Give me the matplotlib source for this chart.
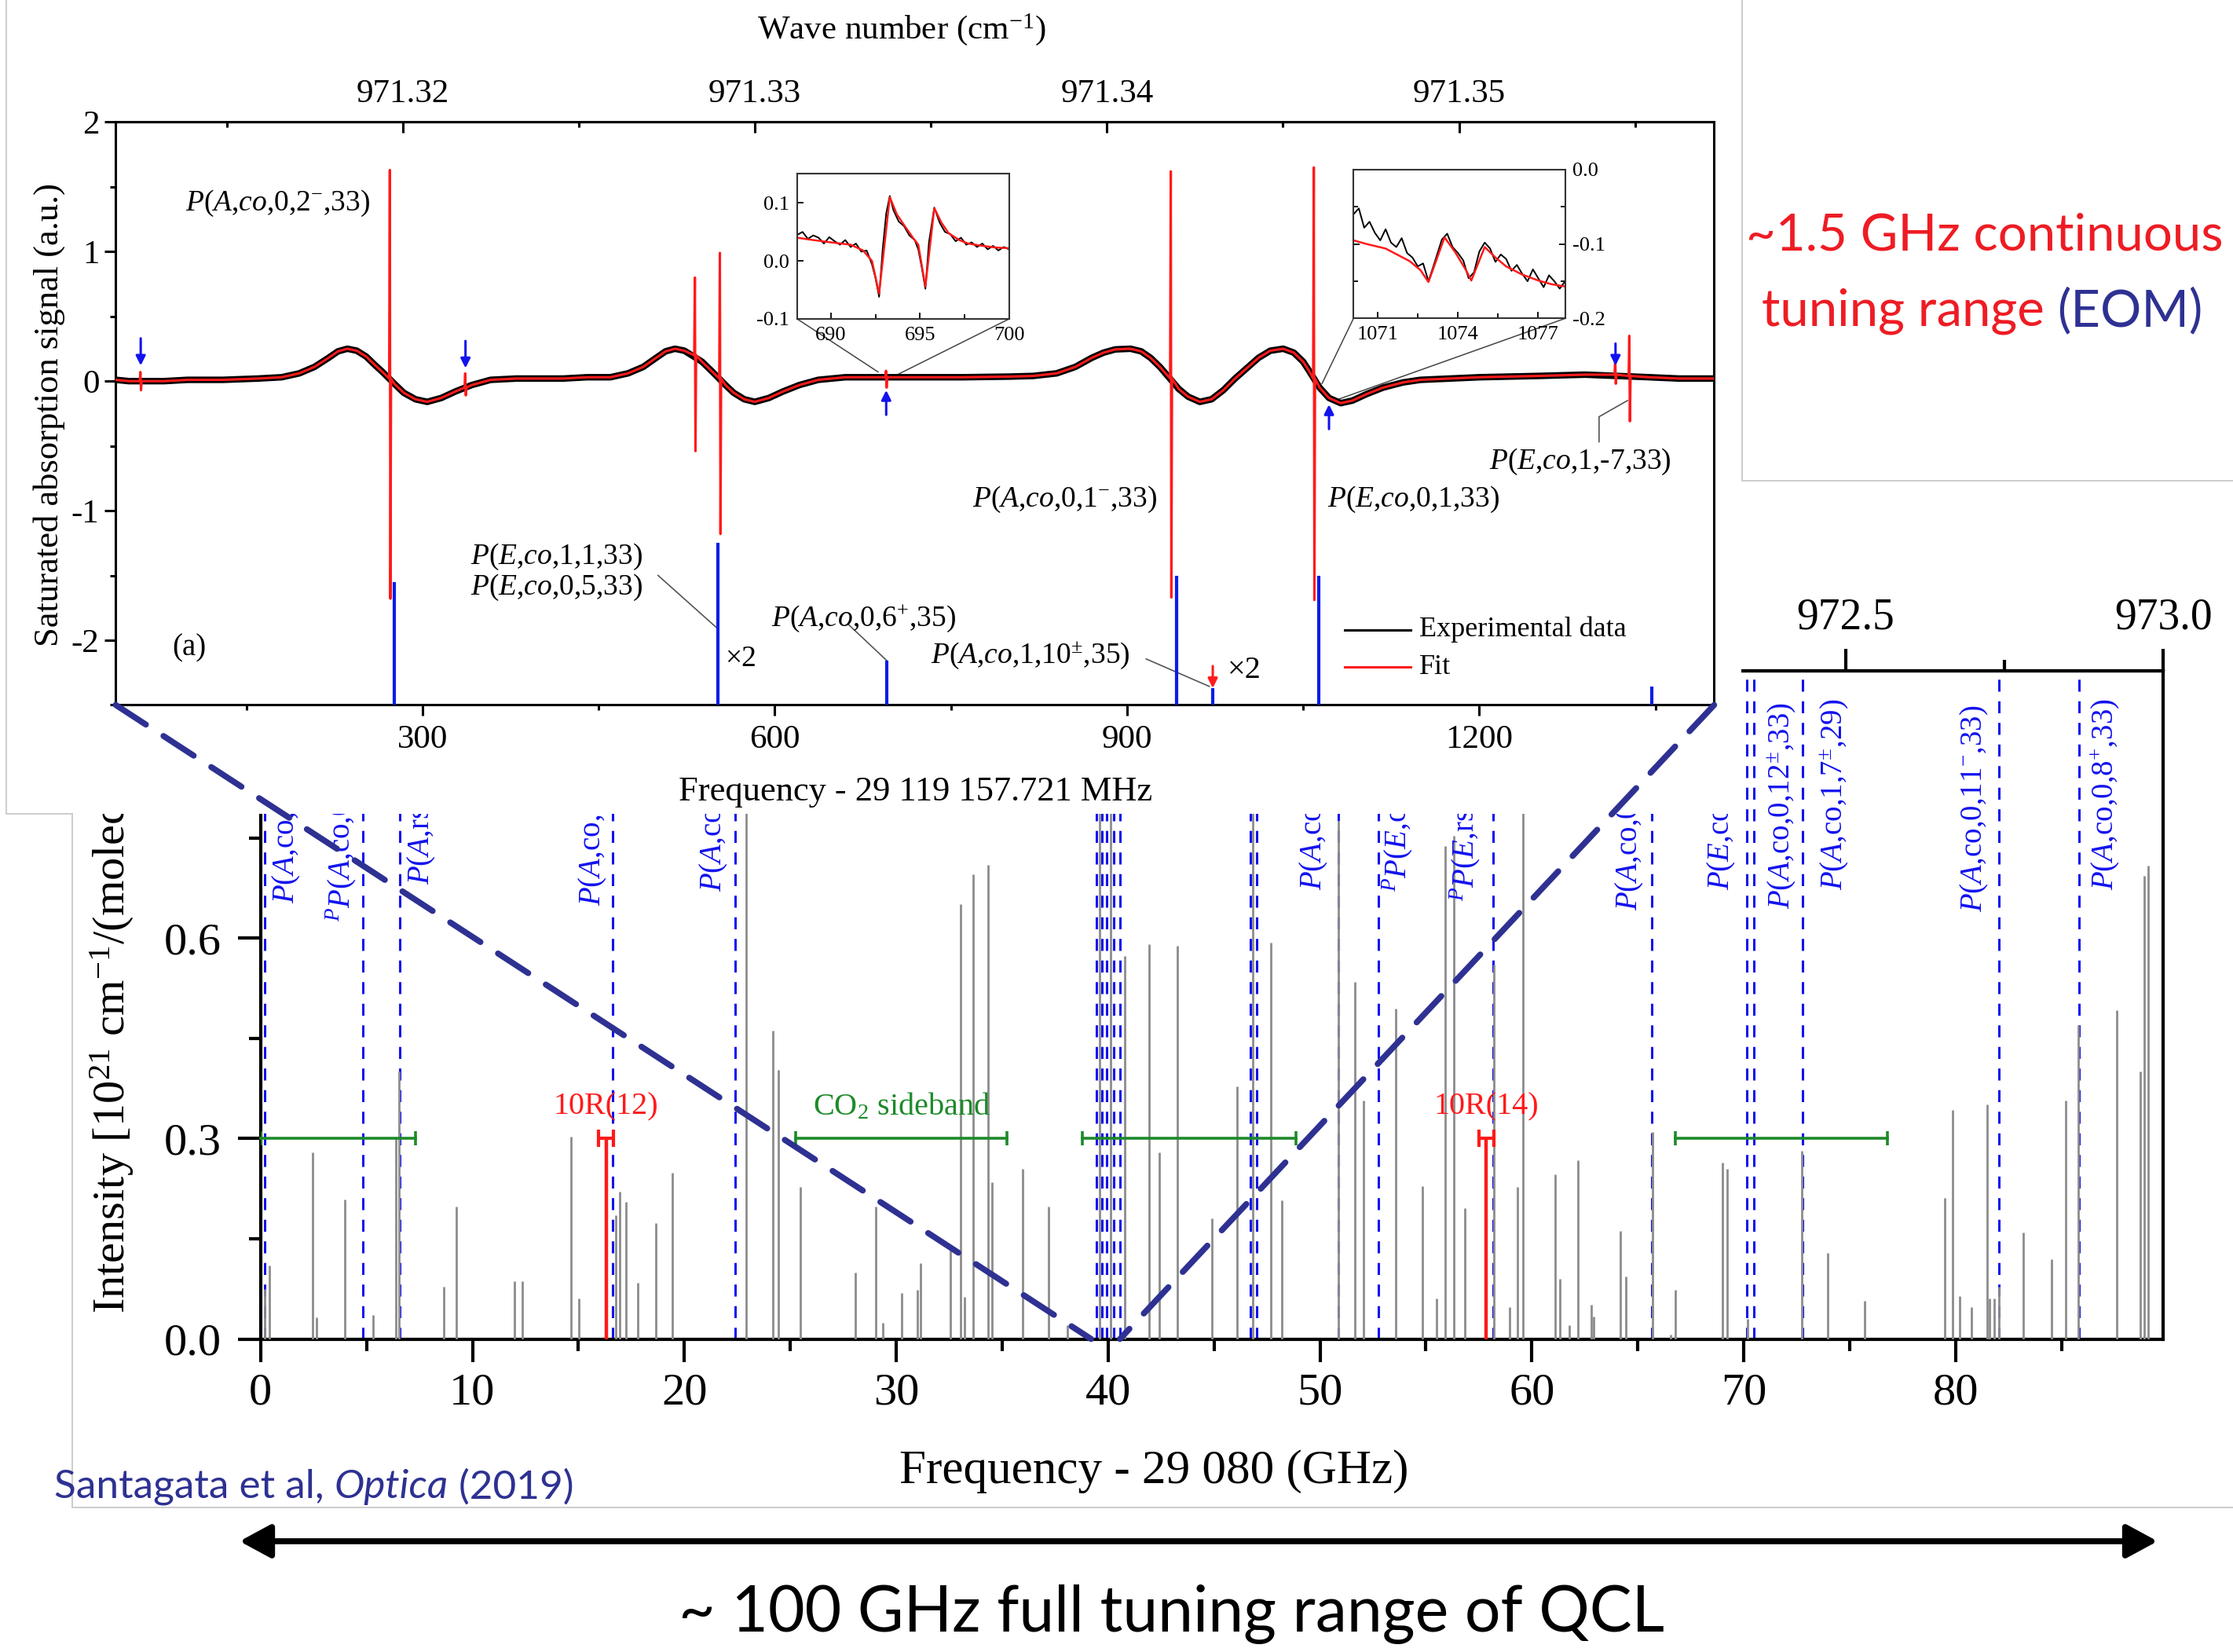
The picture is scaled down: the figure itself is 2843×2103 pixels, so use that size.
import numpy as np
import matplotlib.pyplot as plt
from matplotlib.patches import Rectangle, ConnectionPatch, FancyArrowPatch
from matplotlib.lines import Line2D
from matplotlib.ticker import MultipleLocator, FixedLocator, FormatStrFormatter

plt.rcParams['font.family'] = ['Liberation Serif', 'DejaVu Serif']
plt.rcParams['mathtext.fontset'] = 'custom'
plt.rcParams['mathtext.rm'] = 'Liberation Serif'
plt.rcParams['mathtext.it'] = 'Liberation Serif:italic'
plt.rcParams['mathtext.bf'] = 'Liberation Serif:bold'
plt.rcParams['axes.unicode_minus'] = False

# ---------------- survey spectrum (bottom panel), frequency - 29 080 GHz
stick_ghz = [0.20, 0.43, 2.47, 2.65, 3.99, 5.30, 6.40, 6.55, 8.63, 9.23, 11.97, 12.36,
             14.66, 15.02, 16.75, 16.95, 17.25, 17.79, 18.64, 19.45, 22.93, 24.17, 24.42,
             25.48, 28.07, 29.03, 29.38, 30.27, 30.98, 31.16, 32.57, 33.03, 33.21, 33.64,
             34.35, 34.53, 35.95, 37.19, 38.08, 39.60, 40.10, 40.80, 41.93, 42.40, 43.26,
             44.90, 46.09, 46.84, 47.69, 48.20, 50.87, 51.65, 52.06, 53.59, 54.85, 55.50,
             55.91, 56.32, 56.83, 58.20, 58.95, 59.33, 59.57, 61.09, 61.33, 61.78, 62.19,
             62.80, 62.90, 64.17, 64.44, 65.70, 66.55, 66.78, 69.00, 69.20, 70.19, 72.75,
             73.95, 75.69, 79.50, 79.84, 80.18, 80.76, 81.48, 81.61, 81.82, 82.06, 83.18,
             84.54, 85.19, 85.80, 87.60, 88.72, 88.90, 89.07]
stick_int = [0.075, 0.110, 0.279, 0.032, 0.209, 0.036, 0.300, 0.400, 0.078, 0.198, 0.087, 0.087,
             0.303, 0.060, 0.185, 0.220, 0.205, 0.084, 0.174, 0.249, 0.950, 0.462, 0.403,
             0.228, 0.099, 0.198, 0.024, 0.069, 0.073, 0.114, 0.132, 0.651, 0.063, 0.695,
             0.710, 0.234, 0.255, 0.198, 0.020, 0.950, 0.950, 0.573, 0.591, 0.279, 0.589,
             0.180, 0.378, 0.950, 0.593, 0.207, 0.775, 0.534, 0.357, 0.495, 0.229, 0.060,
             0.738, 0.753, 0.196, 0.560, 0.048, 0.228, 0.950, 0.246, 0.090, 0.021, 0.267,
             0.051, 0.033, 0.162, 0.093, 0.310, 0.006, 0.073, 0.264, 0.255, 0.030, 0.282,
             0.129, 0.057, 0.211, 0.343, 0.064, 0.048, 0.351, 0.060, 0.061, 0.078, 0.159,
             0.119, 0.357, 0.470, 0.492, 0.400, 0.693, 0.708]

assigned_ghz = [0.20, 4.82, 6.56, 16.62, 22.41, 39.45, 39.70, 39.95, 40.25, 40.55, 46.70,
                47.00, 50.87, 52.74, 58.18, 65.66, 70.15, 70.48, 72.77, 82.04, 85.84]

# labels of the assigned lines; those on the left run under the upper card
label_ghz = [1.22, 3.79, 7.60, 15.69, 21.41, 49.72, 53.64, 56.85, 64.62, 68.97,
             71.78, 74.27, 80.91, 87.05]
label_base = [0.652, 0.625, 0.680, 0.649, 0.670, 0.672, 0.670, 0.656, 0.641, 0.672,
              0.644, 0.672, 0.639, 0.672]
label_text = [r'$P$($A$,co,', r'${}^{P}P$($A$,co,0', r'$P$($A$,rs', r'$P$($A$,co,0',
              r'$P$($A$,co', r'$P$($A$,co', r'${}^{P}P$($E$,co', r'${}^{P}P$($E$,rs',
              r'$P$($A$,co,0', r'$P$($E$,co', r'$P$($A$,co,0,12$^{\pm}$,33)',
              r'$P$($A$,co,1,7$^{\pm}$,29)', r'$P$($A$,co,0,11$^{-}$,33)',
              r'$P$($A$,co,0,8$^{+}$,33)']

sideband_lo = [0.0, 25.24, 38.78, 66.78]
sideband_hi = [7.32, 35.24, 48.86, 76.78]
sideband_level = 0.3

laser_ghz = [16.30, 57.85]
laser_name = ['10R(12)', '10R(14)']

# ---------------- saturated absorption scan (top panel), frequency - 29 119 157.721 MHz
fit_mhz = [38.7, 50, 80, 100, 130, 160, 180, 195, 208, 220, 228, 236, 244, 252, 260, 266,
           276, 284, 294, 304, 316, 328, 342, 358, 380, 420, 440, 460, 475, 488, 499, 507,
           515, 523, 538, 546, 558, 565, 574, 583, 595, 607, 621, 637, 660, 700, 760, 800,
           820, 840, 856, 870, 880, 890, 903, 912, 920, 928, 944, 952, 962, 972, 982, 992,
           1002, 1012, 1022, 1033, 1042, 1050, 1055, 1064, 1072, 1082, 1092, 1104, 1118,
           1135, 1150, 1200, 1250, 1290, 1345, 1370, 1400]
fit_sig = [0.01, 0.00, 0.00, 0.01, 0.01, 0.02, 0.03, 0.06, 0.11, 0.18, 0.23, 0.25, 0.235,
           0.19, 0.12, 0.07, -0.02, -0.09, -0.14, -0.16, -0.13, -0.08, -0.03, 0.01, 0.02,
           0.02, 0.03, 0.03, 0.06, 0.11, 0.18, 0.23, 0.25, 0.235, 0.15, 0.08, -0.03, -0.09,
           -0.14, -0.16, -0.13, -0.08, -0.03, 0.01, 0.03, 0.03, 0.03, 0.035, 0.04, 0.06,
           0.11, 0.18, 0.22, 0.245, 0.25, 0.23, 0.18, 0.11, -0.06, -0.12, -0.16, -0.14,
           -0.07, 0.02, 0.10, 0.18, 0.235, 0.25, 0.22, 0.15, 0.08, -0.05, -0.13, -0.17,
           -0.15, -0.10, -0.05, -0.01, 0.01, 0.03, 0.04, 0.05, 0.03, 0.02, 0.02]
spike_mhz = [60.0, 272.4, 336.6, 532.2, 553.5, 695.0, 937.5, 1059.3, 1316.0, 1328.0]
spike_base = [0.00, 0.02, -0.05, 0.20, 0.02, 0.03, 0.02, 0.02, 0.05, 0.04]
spike_top = [0.07, 1.63, 0.06, 0.80, 0.99, 0.08, 1.62, 1.65, 0.17, 0.35]
spike_bot = [-0.07, -1.68, -0.11, -0.54, -1.18, -0.05, -1.67, -1.69, -0.02, -0.31]

stick_mhz = [276.1, 551.5, 695.7, 942.5, 973.0, 1063.5, 1347.0]
stick_top = [-1.55, -1.25, -2.16, -1.50, -2.37, -1.50, -2.36]

# small markers of weak lines (blue arrows): position, tail, head
weak_mhz = [60.0, 336.6, 694.9, 1072.0, 1316.0]
weak_tail = [0.33, 0.31, -0.26, -0.37, 0.29]
weak_head = [0.12, 0.10, -0.07, -0.18, 0.12]

# zoomed insets: fit and measured trace
in1_mhz = [688.1, 689.0, 690.0, 691.1, 691.8, 692.3, 692.7, 693.3, 693.7, 694.1, 694.6,
           694.9, 695.3, 695.8, 696.2, 696.6, 697.2, 697.7, 698.5, 699.3, 700.0]
in1_fit = [0.040, 0.036, 0.032, 0.028, 0.018, 0.000, -0.056, 0.110, 0.080, 0.062, 0.040,
           0.028, -0.044, 0.091, 0.066, 0.048, 0.036, 0.030, 0.026, 0.023, 0.022]
in1_exp_mhz = [688.1, 688.4, 688.7, 689.0, 689.3, 689.6, 689.9, 690.2, 690.5, 690.8, 691.1,
               691.4, 691.7, 692.0, 692.3, 692.5, 692.7, 692.9, 693.1, 693.3, 693.5, 693.8,
               694.1, 694.4, 694.7, 694.9, 695.1, 695.3, 695.5, 695.8, 696.1, 696.4, 696.7,
               697.0, 697.3, 697.6, 697.9, 698.2, 698.5, 698.8, 699.1, 699.4, 699.7, 700.0]
in1_exp = [0.045, 0.050, 0.038, 0.044, 0.040, 0.030, 0.041, 0.034, 0.028, 0.036, 0.024,
           0.030, 0.016, 0.018, -0.006, -0.030, -0.062, 0.020, 0.082, 0.112, 0.088, 0.068,
           0.060, 0.044, 0.036, 0.020, -0.012, -0.048, 0.032, 0.092, 0.066, 0.050, 0.046,
           0.034, 0.040, 0.028, 0.032, 0.024, 0.030, 0.020, 0.026, 0.018, 0.024, 0.020]
in2_mhz = [1070.1, 1070.6, 1071.3, 1072.2, 1072.6, 1072.9, 1073.5, 1073.9, 1074.3, 1074.5,
           1075.0, 1075.4, 1075.8, 1076.4, 1077.0, 1077.5, 1078.0]
in2_fit = [-0.095, -0.100, -0.106, -0.123, -0.135, -0.151, -0.091, -0.111, -0.135, -0.149,
           -0.104, -0.118, -0.130, -0.141, -0.149, -0.154, -0.157]
in2_exp_mhz = [1070.1, 1070.3, 1070.5, 1070.7, 1070.9, 1071.1, 1071.3, 1071.5, 1071.7,
               1071.9, 1072.1, 1072.3, 1072.5, 1072.7, 1072.9, 1073.1, 1073.4, 1073.6,
               1073.8, 1074.0, 1074.2, 1074.4, 1074.6, 1074.8, 1075.0, 1075.2, 1075.4,
               1075.6, 1075.8, 1076.0, 1076.2, 1076.4, 1076.6, 1076.8, 1077.0, 1077.2,
               1077.4, 1077.6, 1077.8, 1078.0]
in2_exp = [-0.060, -0.052, -0.078, -0.070, -0.085, -0.095, -0.080, -0.098, -0.104, -0.092,
           -0.112, -0.118, -0.130, -0.126, -0.150, -0.128, -0.094, -0.086, -0.104, -0.112,
           -0.122, -0.146, -0.138, -0.110, -0.098, -0.106, -0.124, -0.114, -0.120, -0.136,
           -0.128, -0.140, -0.150, -0.134, -0.146, -0.158, -0.142, -0.150, -0.160, -0.150]

F0_GHZ = 29080.0
F0_MHZ = 29119157.721
C_GHZ = 29.9792458      # GHz per cm-1
C_MHZ = 29979.2458

W, H = 2843, 2103


def fx(px):
    return px / W


def fy(py):
    return 1 - py / H


def box(l, t, r, b):
    return [fx(l), fy(b), (r - l) / W, (b - t) / H]


BLUE = '#1212ee'
RED = '#ff1a1a'
GREEN = '#1d8a2a'
NAVY = '#2e3192'
SLIDE_RED = '#ee1c24'

fig = plt.figure(figsize=(W / 100, H / 100), dpi=100)
renderer = fig.canvas.get_renderer()

# ================= bottom panel =================
ax_b = fig.add_axes(box(331.8, 854, 2754.4, 1704.5))
ax_b.set_zorder(1)
ax_b.vlines(assigned_ghz, 0, 1, colors=BLUE, linestyles=(0, (5, 4)), lw=2.2, zorder=2)
ax_b.vlines(stick_ghz, 0, stick_int, colors='#8c8c8c', lw=2.0, zorder=3)

for lo, hi in zip(sideband_lo, sideband_hi):
    ax_b.plot([lo, hi], [sideband_level] * 2, color=GREEN, lw=2.6, zorder=4, clip_on=False)
    ax_b.plot([lo, hi], [sideband_level] * 2, ls='none', marker='|', ms=13, mew=2.6,
              color=GREEN, zorder=4)
ax_b.text((sideband_lo[1] + sideband_hi[1]) / 2, sideband_level + 0.048, 'CO$_2$ sideband',
          color=GREEN, fontsize=29, ha='center', va='center', zorder=6)

for g, name in zip(laser_ghz, laser_name):
    ax_b.vlines(g, 0, sideband_level, colors=RED, lw=3.2, zorder=5)
    ax_b.errorbar(g, sideband_level, xerr=0.35, color=RED, capsize=8, lw=3, capthick=3,
                  zorder=5)
    ax_b.text(g, sideband_level + 0.048, name, color=RED, fontsize=29, ha='center',
              va='center', zorder=6)

for g, yb, t in zip(label_ghz, label_base, label_text):
    ax_b.text(g, yb, t, rotation=90, ha='center', va='bottom', color=BLUE, fontsize=28,
              zorder=6)

ax_b.set_xlim(0, 973.0 * C_GHZ - F0_GHZ)
ax_b.set_ylim(0, 1.0)
ax_b.xaxis.set_major_locator(MultipleLocator(10))
ax_b.xaxis.set_minor_locator(MultipleLocator(5))
ax_b.yaxis.set_major_locator(FixedLocator([0.0, 0.3, 0.6]))
ax_b.yaxis.set_minor_locator(FixedLocator([0.15, 0.45, 0.75]))
ax_b.yaxis.set_major_formatter(FormatStrFormatter('%.1f'))
ax_b.tick_params(which='major', direction='out', length=21, width=3, labelsize=42)
ax_b.tick_params(axis='x', which='major', pad=10)
ax_b.tick_params(axis='y', which='major', pad=15)
ax_b.tick_params(which='minor', direction='out', length=11, width=3)
for s in ax_b.spines.values():
    s.set_linewidth(3)

# wavenumber scale; only the part right of the upper card is visible
sec_b = ax_b.secondary_xaxis('top', functions=(lambda g: (g + F0_GHZ) / C_GHZ,
                                                lambda w: w * C_GHZ - F0_GHZ))
sec_b.xaxis.set_major_locator(FixedLocator([972.5, 973.0]))
sec_b.xaxis.set_minor_locator(FixedLocator([972.75]))
sec_b.xaxis.set_major_formatter(FormatStrFormatter('%.1f'))
sec_b.tick_params(which='major', direction='out', length=20, width=3, labelsize=40, pad=10)
sec_b.tick_params(which='minor', direction='out', length=10, width=3)
sec_b.spines['top'].set_linewidth(3)

fig.text(fx(143), fy(1672), 'Intensity [10$^{21}$ cm$^{-1}$/(molecu',
         rotation=90, ha='center', va='bottom', fontsize=42, zorder=1.5)
fig.text(fx(1469), fy(1873), 'Frequency - 29 080 (GHz)', ha='center', va='center',
         fontsize=44, zorder=1.5)

# white card of the upper figure
fig.add_artist(Rectangle((fx(7), fy(1036)), (2217 - 7) / W, 1036 / H,
                         transform=fig.transFigure, facecolor='white', edgecolor='none',
                         zorder=2))
border = '#c8c8c8'
fig.add_artist(Line2D([fx(8), fx(8), fx(92)], [fy(0), fy(1036), fy(1036)],
                      transform=fig.transFigure, color=border, lw=1.3, zorder=2.5))
fig.add_artist(Line2D([fx(92), fx(92), fx(2843)], [fy(1036), fy(1919), fy(1919)],
                      transform=fig.transFigure, color=border, lw=1.3, zorder=2.5))
fig.add_artist(Line2D([fx(2218), fx(2218), fx(2843)], [fy(0), fy(612), fy(612)],
                      transform=fig.transFigure, color=border, lw=1.3, zorder=2.5))

# ================= top panel =================
ax_t = fig.add_axes(box(147.3, 155.4, 2182.4, 897.4))
ax_t.set_zorder(3)

rx = list(fit_mhz)
ry = list(fit_sig)
for c, b0, t, b in zip(spike_mhz, spike_base, spike_top, spike_bot):
    rx += [c - 0.8, c - 0.25, c + 0.25, c + 0.8]
    ry += [b0, t, b, b0]
order = np.argsort(rx)
red_x = np.array(rx)[order]
red_y = np.array(ry)[order]

ax_t.plot(fit_mhz, fit_sig, color='black', lw=6, zorder=2, solid_joinstyle='round')
ax_t.plot(red_x, red_y, color=RED, lw=2.2, zorder=3)
ax_t.vlines(stick_mhz, -2.5, stick_top, colors='#0b1de8', lw=3, zorder=4)

for x, t0, t1 in zip(weak_mhz, weak_tail, weak_head):
    ax_t.annotate('', xy=(x, t1), xytext=(x, t0),
                  arrowprops=dict(arrowstyle='-|>', color=BLUE, lw=2.2, mutation_scale=18,
                                  shrinkA=0, shrinkB=0))

ax_t.set_xlim(38.7, 1400)
ax_t.set_ylim(-2.5, 2)
ax_t.xaxis.set_major_locator(MultipleLocator(300))
ax_t.xaxis.set_minor_locator(MultipleLocator(150))
ax_t.yaxis.set_major_locator(MultipleLocator(1))
ax_t.yaxis.set_minor_locator(MultipleLocator(0.5))
ax_t.tick_params(which='major', direction='out', length=10, width=2.2, labelsize=31)
ax_t.tick_params(which='minor', direction='out', length=5, width=2.2)
ax_t.tick_params(axis='x', pad=8)
ax_t.tick_params(axis='y', pad=5)
for s in ax_t.spines.values():
    s.set_linewidth(2.2)

sec_t = ax_t.secondary_xaxis('top', functions=(lambda x: (x + F0_MHZ) / C_MHZ,
                                                lambda w: w * C_MHZ - F0_MHZ))
sec_t.xaxis.set_major_locator(MultipleLocator(0.01))
sec_t.xaxis.set_minor_locator(MultipleLocator(0.005))
sec_t.xaxis.set_major_formatter(FormatStrFormatter('%.2f'))
sec_t.tick_params(which='major', direction='in', length=10, width=2.2, labelsize=31, pad=12)
sec_t.tick_params(which='minor', direction='in', length=5, width=2.2)
sec_t.spines['top'].set_linewidth(2.2)

fig.text(fx(1148), fy(38), 'Wave number (cm$^{-1}$)', ha='center', va='center',
         fontsize=31, zorder=4)
fig.text(fx(1166), fy(1008), 'Frequency - 29 119 157.721 MHz', ha='center', va='center',
         fontsize=32, zorder=4)
fig.text(fx(63), fy(528), 'Saturated absorption signal (a.u.)', rotation=90, ha='center',
         va='center', fontsize=32, zorder=4)

afs = 27
lead = '#555555'
ax_t.text(176.7, 1.37, r'$P$($A$,$co$,0,2$^{-}$,33)', fontsize=afs, ha='center', va='center')
ax_t.text(414, -1.475, r'$P$($E$,$co$,1,1,33)' + '\n' + r'$P$($E$,$co$,0,5,33)',
          fontsize=afs, ha='center', va='center', linespacing=1.05)
ax_t.plot([500.6, 550], [-1.50, -1.90], color=lead, lw=1.2)
ax_t.text(571, -2.145, '×2', fontsize=afs, ha='center', va='center')
ax_t.text(675.5, -1.83, r'$P$($A$,$co$,0,6$^{+}$,35)', fontsize=afs, ha='center', va='center')
ax_t.plot([662.9, 695.7], [-1.88, -2.16], color=lead, lw=1.2)
ax_t.text(817.6, -2.12, r'$P$($A$,$co$,1,10$^{\pm}$,35)', fontsize=afs, ha='center',
          va='center')
ax_t.plot([916.3, 970.1], [-2.145, -2.357], color=lead, lw=1.2)
ax_t.annotate('', xy=(973, -2.37), xytext=(973, -2.2),
              arrowprops=dict(arrowstyle='-|>', color=RED, lw=2.2, mutation_scale=18,
                              shrinkA=0, shrinkB=0))
ax_t.text(1000, -2.235, '×2', fontsize=afs + 2, ha='center', va='center')
ax_t.text(847, -0.915, r'$P$($A$,$co$,0,1$^{-}$,33)', fontsize=afs, ha='center', va='center')
ax_t.text(1143.9, -0.915, r'$P$($E$,$co$,0,1,33)', fontsize=afs, ha='center', va='center')
ax_t.text(1286, -0.62, r'$P$($E$,$co$,1,-7,33)', fontsize=afs, ha='center', va='center')
ax_t.plot([1302, 1302, 1326.2], [-0.468, -0.275, -0.15], color=lead, lw=1.2)
ax_t.text(101, -2.06, '(a)', fontsize=28, ha='center', va='center')

# legend
ax_t.plot([0.7689, 0.8101], [0.1291, 0.1291], color='black', lw=2.2, transform=ax_t.transAxes)
ax_t.plot([0.7689, 0.8101], [0.0652, 0.0652], color=RED, lw=2.2, transform=ax_t.transAxes)
ax_t.text(0.8154, 0.1291, 'Experimental data', fontsize=26, va='center',
          transform=ax_t.transAxes)
ax_t.text(0.8154, 0.0652, 'Fit', fontsize=26, va='center', transform=ax_t.transAxes)

# ---- zoom insets
ax_i1 = fig.add_axes(box(1015, 221.4, 1284.7, 406))
ax_i1.set_zorder(4)
ax_i1.plot(in1_exp_mhz, in1_exp, color='black', lw=1.4)
ax_i1.plot(in1_mhz, in1_fit, color=RED, lw=1.8)
ax_i1.set_xlim(688.1, 700)
ax_i1.set_ylim(-0.1, 0.15)
ax_i1.xaxis.set_major_locator(MultipleLocator(5))
ax_i1.xaxis.set_minor_locator(MultipleLocator(2.5))
ax_i1.yaxis.set_major_locator(MultipleLocator(0.1))
ax_i1.yaxis.set_major_formatter(FormatStrFormatter('%.1f'))
ax_i1.tick_params(which='both', direction='in', length=6, width=1.3, labelsize=19, pad=7)
ax_i1.tick_params(which='minor', length=4)

ax_i2 = fig.add_axes(box(1723.2, 216, 1992.6, 405.4))
ax_i2.set_zorder(4)
ax_i2.plot(in2_exp_mhz, in2_exp, color='black', lw=1.4)
ax_i2.plot(in2_mhz, in2_fit, color=RED, lw=1.8)
ax_i2.set_xlim(1070.1, 1078)
ax_i2.set_ylim(-0.2, 0.0)
ax_i2.xaxis.set_major_locator(MultipleLocator(3))
ax_i2.xaxis.set_minor_locator(MultipleLocator(1.5))
ax_i2.yaxis.set_major_locator(MultipleLocator(0.1))
ax_i2.yaxis.set_minor_locator(MultipleLocator(0.05))
ax_i2.yaxis.set_major_formatter(FormatStrFormatter('%.1f'))
ax_i2.tick_params(which='both', direction='in', length=6, width=1.3, labelsize=19, pad=7,
                  left=True, right=True, labelleft=False, labelright=True)
ax_i2.tick_params(which='minor', length=4)
for a in (ax_i1, ax_i2):
    for s in a.spines.values():
        s.set_linewidth(1.5)
        s.set_color('#333333')

for a, pts in ((ax_i1, [((688.1, -0.1), (688.1, 0.07)), ((700, -0.1), (700, 0.03))]),
               (ax_i2, [((1070.1, -0.2), (1066, -0.02)), ((1078, -0.2), (1080, -0.14))])):
    for pa, pb in pts:
        cp = ConnectionPatch(xyA=pa, coordsA=a.transData, xyB=pb, coordsB=ax_t.transData,
                             color='#444444', lw=1.1)
        ax_t.add_artist(cp)

# navy dashed guides from the scan to its place in the survey
off = (F0_MHZ / 1000.0) - F0_GHZ
for xm in ax_t.get_xlim():
    cp = ConnectionPatch(xyA=(xm, -2.5), coordsA=ax_t.transData,
                         xyB=(off + xm / 1000.0, 0), coordsB=ax_b.transData,
                         color=NAVY, lw=5.5, linestyle=(0, (6, 3.5)))
    cp.set_zorder(8)
    fig.add_artist(cp)


# ================= slide annotations =================
def chain(parts, x0, y0, size):
    xpos = x0
    for text, colour, style in parts:
        t = fig.text(xpos, y0, text, family='Lato', style=style, fontsize=size, color=colour,
                     ha='left', va='center', zorder=10)
        xpos = t.get_window_extent(renderer).x1 / W


chain([('~1.5 GHz continuous', SLIDE_RED, 'normal')], fx(2223), fy(300), 47)
chain([('tuning range ', SLIDE_RED, 'normal'), ('(EOM)', NAVY, 'normal')],
      fx(2243), fy(396), 47)
chain([('Santagata et al, ', NAVY, 'normal'), ('Optica', NAVY, 'italic'),
       (' (2019)', NAVY, 'normal')], fx(69), fy(1893), 37)

fig.add_artist(FancyArrowPatch((fx(305), fy(1962)), (fx(2747), fy(1962)),
                               transform=fig.transFigure,
                               arrowstyle='<|-|>,head_length=1.2,head_width=0.65',
                               mutation_scale=20, lw=5.5, color='black',
                               shrinkA=0, shrinkB=0, zorder=10))
fig.text(fx(1492), fy(2055), '~ 100 GHz full tuning range of QCL', family='Lato', fontsize=58,
         ha='center', va='center', zorder=10)

fig.savefig('out.png', dpi=100, facecolor='white')
